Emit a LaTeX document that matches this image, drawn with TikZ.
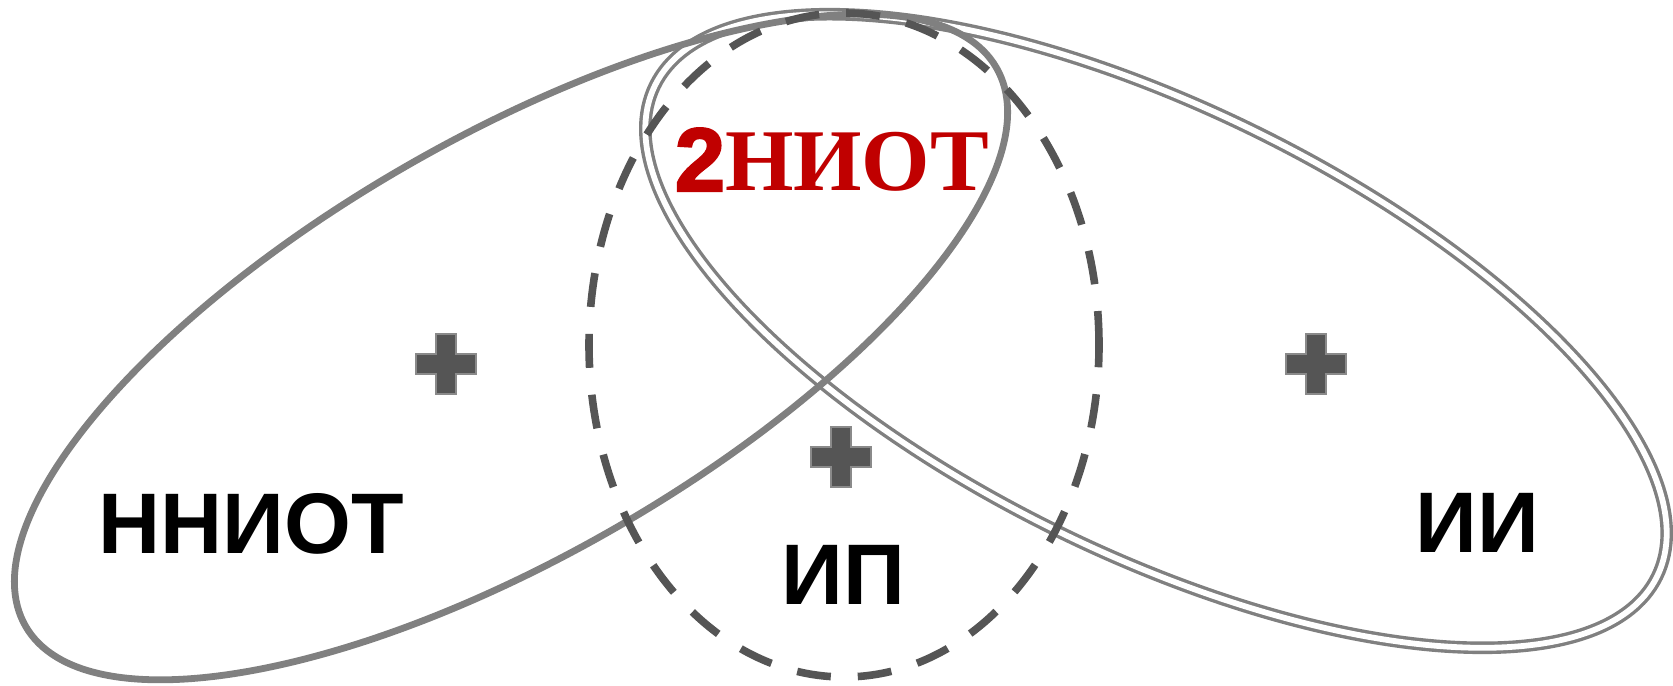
\documentclass[tikz,border=0pt]{standalone}
\usepackage{fontspec}
\setmainfont{Liberation Sans}
\newfontfamily\serifcyr{Liberation Serif}
\newfontfamily\heavydigit[FakeBold=2.5]{Liberation Sans Bold}
\begin{document}
\begin{tikzpicture}[x=0.5pt,y=0.5pt,
  ringline/.style={draw=lineGray, line width=3.4pt},
  doubleline/.style={draw=lineGray, line width=1.7pt, double=white, double distance=2.9pt},
  dashline/.style={draw=dashGray, line width=3.8pt, dash pattern=on 17pt off 13.5pt},
  lbl/.style={inner sep=0pt, font=\fontsize{43}{43}\selectfont\bfseries, text=black},
  plus/.pic={\filldraw[fill=crossFill, draw=crossEdge, line width=1pt]
     (-10,-30) -- (10,-30) -- (10,-10) -- (30,-10) -- (30,10) -- (10,10) -- (10,30)
     -- (-10,30) -- (-10,10) -- (-30,10) -- (-30,-10) -- (-10,-10) -- cycle;}
]
\definecolor{lineGray}{HTML}{808080}
\definecolor{dashGray}{HTML}{555555}
\definecolor{crossFill}{HTML}{555555}
\definecolor{crossEdge}{HTML}{8A8A8A}
\definecolor{titleRed}{HTML}{C00000}
\useasboundingbox (0,0) rectangle (1673,685);
% right ellipse (double line)
\draw[doubleline, rotate around={-26.1:(1156,354)}] (1156,354) ellipse [x radius=558, y radius=223];
% left ellipse
\draw[ringline, rotate around={29.9:(511,338)}] (511,338) ellipse [x radius=560, y radius=209];
% dashed ellipse
\draw[dashline] (844,340) ellipse [x radius=255, y radius=332];
% crosses
\pic (plusA) at (446,321) {plus};
\pic (plusB) at (841,228) {plus};
\pic (plusC) at (1316,321) {plus};
% labels
\node[lbl] (nniot) at (251,161) {ННИОТ};
\node[lbl] (ip) at (843,110) {ИП};
\node[lbl] (ii) at (1477,162) {ИИ};
\node[inner sep=0pt, text=titleRed] (title) at (832,525)
  {{\heavydigit\fontsize{45}{45}\selectfont 2}{\serifcyr\fontsize{44}{44}\selectfont\bfseries НИОТ}};
\end{tikzpicture}
\end{document}
